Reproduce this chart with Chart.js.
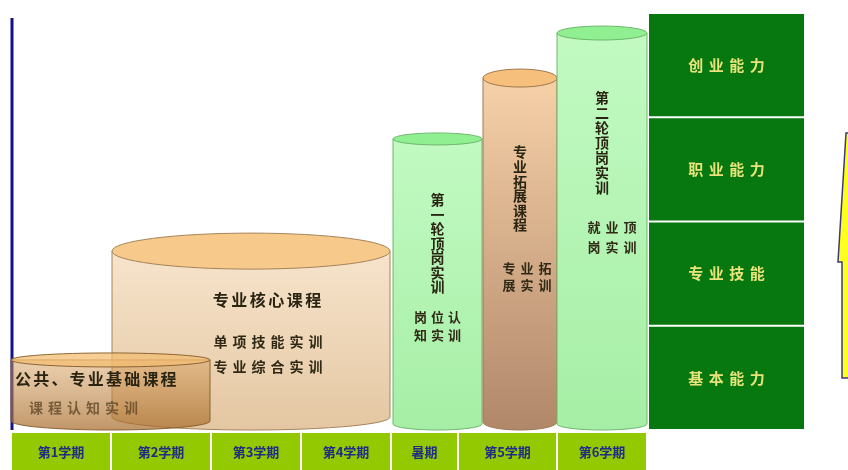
<!DOCTYPE html>
<html>
<head>
<meta charset="utf-8">
<script src="https://cdn.jsdelivr.net/npm/chart.js@4.4.1/dist/chart.umd.min.js"></script>
<style>
  body { margin: 0; background: #fff; }
</style>
</head>
<body>
<canvas id="myChart" width="848" height="470"></canvas>
<script>
// terms along the bottom, and where each one ends on the x axis (in terms)
var terms = ['第1学期', '第2学期', '第3学期', '第4学期', '暑期', '第5学期', '第6学期'];
var termEdges = [0, 1, 2, 2.9, 3.8, 4.47, 5.46, 6.36];

// course blocks (cylinders): span on x, height on the 0-100 level axis
var courses = ['公共、专业基础课程', '专业核心课程', '第一轮顶岗实训', '专业拓展课程', '第二轮顶岗实训'];
var courseStart = [0, 1.01, 3.82, 4.72, 5.46];
var courseEnd = [1.99, 3.79, 4.71, 5.46, 6.36];
var courseLevel = [16.8, 42.9, 69.8, 84.4, 95.2];
var trainings = [['课程认知实训'], ['单项技能实训', '专业综合实训'], ['岗位认', '知实训'], ['专业拓', '展实训'], ['就业顶', '岗实训']];

// ability levels on the right, bottom to top
var abilities = ['基本能力', '专业技能', '职业能力', '创业能力'];
var abilityEdges = [0, 25, 50, 75, 100];

var FONT = '"Noto Sans CJK SC", "Noto Sans", sans-serif';

// look of each cylinder (same order as courses)
var looks = [
    { ry: 7, baseRy: 9, top: 'rgba(243,190,115,0.75)', body: ['rgba(215,160,95,0.5)', 'rgba(165,105,40,0.7)'], line: 'rgba(130,90,40,0.9)',
      title: { left: 4, dy: 19, size: 16, step: 18.2 }, train: { dx: -27, dy: [48], size: 14, step: 19, color: 'rgba(90,65,35,0.75)' } },
    { ry: 18, baseRy: 13, top: '#f7c98a', body: ['#f7e4cc', '#e4c7a2'], line: '#a5845a',
      title: { dx: 16, dy: 49, size: 16, step: 18.5 }, train: { dx: 17, dy: [91, 116], size: 14, step: 19 } },
    { ry: 6, baseRy: 6, top: '#90ef90', body: ['#c2fac2', '#a6eea6'], line: '#6cb86c',
      vertical: { dy: 61, size: 14, step: 14.5 }, train: { dx: 0, dy: [178, 196], size: 13, step: 17 } },
    { ry: 9, baseRy: 8, top: '#f7bf7c', body: ['#f6d1a8', '#b1876a'], line: '#a07850',
      vertical: { dy: 74, size: 14, step: 14.6 }, train: { dx: 7, dy: [190, 207], size: 13, step: 18 } },
    { ry: 7, baseRy: 6, top: '#90ef90', body: ['#c2fac2', '#a6eea6'], line: '#6cb86c',
      vertical: { dy: 65, size: 14, step: 15 }, train: { dx: 10, dy: [194, 214], size: 13, step: 18 } }
];

function spaced(ctx, str, cx, y, step) {
    var start = cx - step * (str.length - 1) / 2;
    for (var i = 0; i < str.length; i++) {
        ctx.fillText(str[i], start + i * step, y);
    }
}

function drawCylinder(ctx, i, xs, ys) {
    var lk = looks[i];
    var x0 = xs.getPixelForValue(courseStart[i]);
    var x1 = xs.getPixelForValue(courseEnd[i]);
    var yTop = ys.getPixelForValue(courseLevel[i]);
    var yBase = ys.getPixelForValue(0) - lk.baseRy;
    var cx = (x0 + x1) / 2, rx = (x1 - x0) / 2;

    var g = ctx.createLinearGradient(0, yTop, 0, yBase + lk.baseRy);
    g.addColorStop(0, lk.body[0]);
    g.addColorStop(1, lk.body[1]);
    ctx.beginPath();
    ctx.moveTo(x0, yTop);
    ctx.lineTo(x0, yBase);
    ctx.ellipse(cx, yBase, rx, lk.baseRy, 0, Math.PI, 0, true);
    ctx.lineTo(x1, yTop);
    ctx.closePath();
    ctx.fillStyle = g;
    ctx.fill();
    ctx.strokeStyle = lk.line;
    ctx.lineWidth = 1;
    ctx.stroke();

    ctx.beginPath();
    ctx.ellipse(cx, yTop, rx, lk.ry, 0, 0, Math.PI * 2);
    ctx.fillStyle = lk.top;
    ctx.fill();
    ctx.stroke();

    // texts
    ctx.textAlign = 'center';
    ctx.textBaseline = 'middle';
    ctx.fillStyle = '#2a2412';
    if (lk.vertical) {
        ctx.font = 'bold ' + lk.vertical.size + 'px ' + FONT;
        var s = courses[i];
        for (var k = 0; k < s.length; k++) {
            ctx.fillText(s[k], cx, yTop + lk.vertical.dy + k * lk.vertical.step);
        }
    } else {
        ctx.font = 'bold ' + lk.title.size + 'px ' + FONT;
        var n = courses[i].length;
        var tcx = lk.title.left !== undefined ? x0 + lk.title.left + lk.title.step * (n - 1) / 2 + lk.title.size / 2 : cx + lk.title.dx;
        spaced(ctx, courses[i], tcx, yTop + lk.title.dy, lk.title.step);
    }
    ctx.font = 'bold ' + lk.train.size + 'px ' + FONT;
    ctx.fillStyle = lk.train.color || '#2f2916';
    trainings[i].forEach(function (line, j) {
        spaced(ctx, line, cx + lk.train.dx, yTop + lk.train.dy[j], lk.train.step);
    });
}

var diagram = {
    id: 'diagram',
    afterDatasetsDraw: function (chart) {
        var ctx = chart.ctx, xs = chart.scales.x, ys = chart.scales.y, area = chart.chartArea;
        ctx.save();

        // left axis line
        ctx.strokeStyle = '#12128a';
        ctx.lineWidth = 3;
        ctx.beginPath();
        ctx.moveTo(area.left + 1, area.top + 5);
        ctx.lineTo(area.left + 1, area.bottom);
        ctx.stroke();

        [1, 0, 2, 3, 4].forEach(function (i) { drawCylinder(ctx, i, xs, ys); });

        // term cells
        var cellTop = area.bottom + 3, cellBottom = chart.height;
        terms.forEach(function (t, i) {
            var a = xs.getPixelForValue(termEdges[i]) + 1;
            var b = xs.getPixelForValue(termEdges[i + 1]) - 1;
            ctx.fillStyle = '#93c900';
            ctx.fillRect(a, cellTop, b - a, cellBottom - cellTop);
            ctx.fillStyle = '#1f2c86';
            ctx.font = 'bold 13px ' + FONT;
            ctx.textAlign = 'center';
            ctx.textBaseline = 'middle';
            ctx.fillText(t, (a + b) / 2, cellTop + 19);
        });

        // ability boxes
        var bx = area.right + 2, bw = 155;
        abilities.forEach(function (ab, i) {
            var yb = ys.getPixelForValue(abilityEdges[i]);
            var yt = ys.getPixelForValue(abilityEdges[i + 1]);
            ctx.fillStyle = '#07770f';
            ctx.fillRect(bx, yt + 1, bw, yb - yt - 2);
            ctx.fillStyle = '#e8e47a';
            ctx.font = 'bold 15px ' + FONT;
            spaced(ctx, ab, bx + bw / 2, (yt + yb) / 2, 20.5);
        });

        // big up arrow at the right edge
        ctx.beginPath();
        ctx.moveTo(846, 133);
        ctx.lineTo(838, 262);
        ctx.lineTo(842, 262);
        ctx.lineTo(842, 378);
        ctx.lineTo(860, 378);
        ctx.lineTo(860, 133);
        ctx.closePath();
        ctx.fillStyle = '#ffff22';
        ctx.fill();
        ctx.strokeStyle = '#3c3c78';
        ctx.lineWidth = 1.5;
        ctx.stroke();

        ctx.restore();
    }
};

var ctx = document.getElementById('myChart').getContext('2d');
var myChart = new Chart(ctx, {
    type: 'scatter',
    data: {
        datasets: [{
            data: courses.map(function (c, i) {
                return { x: (courseStart[i] + courseEnd[i]) / 2, y: courseLevel[i] };
            }),
            pointRadius: 0
        }]
    },
    options: {
        responsive: false,
        animation: false,
        devicePixelRatio: 1,
        layout: { padding: { left: 11, right: 201, top: 13, bottom: 40 } },
        scales: {
            x: { type: 'linear', min: termEdges[0], max: termEdges[termEdges.length - 1], display: false },
            y: { type: 'linear', min: 0, max: 100, display: false }
        },
        plugins: { legend: { display: false }, tooltip: { enabled: false } }
    },
    plugins: [diagram]
});
</script>
</body>
</html>
